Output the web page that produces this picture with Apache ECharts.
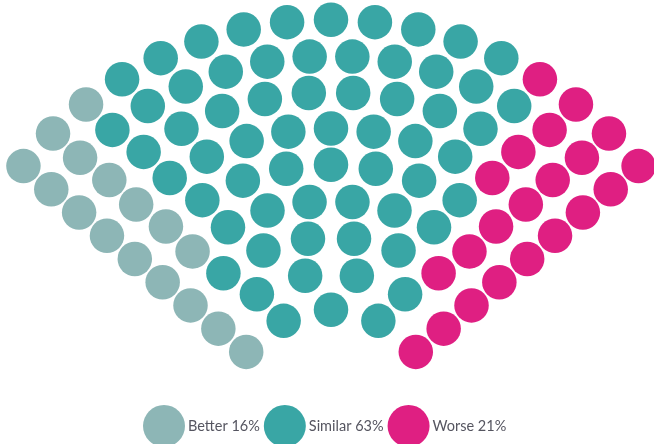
<!DOCTYPE html>
<html>
<head>
<meta charset="utf-8">
<script src="https://cdn.jsdelivr.net/npm/echarts@6/dist/echarts.min.js"></script>
<style>html,body{margin:0;padding:0;background:#fff}#c{width:654px;height:444px}</style>
</head>
<body>
<div id="c"></div>
<script>
// Data
const categories = ['Better', 'Similar', 'Worse'];
const percentages = [16, 63, 21];          // one dot per percent
const rowSeats = [5, 6, 8, 10, 11, 13, 14, 16, 17]; // dots per arc, inner -> outer
const colors = ['#8db6b6', '#39a6a5', '#df1f82'];

// Layout (parliament-style fan)
const innerR = 106.3, outerR = 396.3;
const rowStep = (outerR - innerR) / (rowSeats.length - 1);
const seats = [];
rowSeats.forEach((n, k) => {
  const rPx = innerR + k * rowStep;
  const first = 140.17 + 290.5 / rPx;
  const last = 180 - first;
  for (let i = 0; i < n; i++) {
    const ang = n === 1 ? 90 : first - (first - last) * i / (n - 1);
    seats.push([k + 1, ang]);
  }
});
seats.sort((a, b) => b[1] - a[1]);
const seriesData = [];
let idx = 0;
percentages.forEach((p) => {
  seriesData.push(seats.slice(idx, idx + p));
  idx += p;
});

const chart = echarts.init(document.getElementById('c'), null, {renderer: 'canvas'});
chart.setOption({
  animation: false,
  backgroundColor: '#ffffff',
  polar: { center: [331, 416], radius: [innerR, outerR] },
  radiusAxis: { type: 'value', min: 1, max: rowSeats.length, show: false },
  angleAxis: { type: 'value', min: 0, max: 360, startAngle: 0, clockwise: false, show: false },
  legend: {
    left: 143, top: 405, padding: 0,
    itemWidth: 42, itemHeight: 42, itemGap: 4,
    icon: 'circle',
    data: categories,
    formatter: (name) => name + ' ' + percentages[categories.indexOf(name)] + '%',
    textStyle: { fontFamily: 'Lato', fontSize: 14.5, color: '#555560', padding: [0, 0, 0, -2] }
  },
  series: categories.map((c, i) => ({
    name: c,
    type: 'scatter',
    coordinateSystem: 'polar',
    symbol: 'circle',
    symbolSize: 34.5,
    clip: false,
    itemStyle: { color: colors[i], opacity: 1 },
    emphasis: { disabled: true },
    data: seriesData[i]
  }))
});
</script>
</body>
</html>
